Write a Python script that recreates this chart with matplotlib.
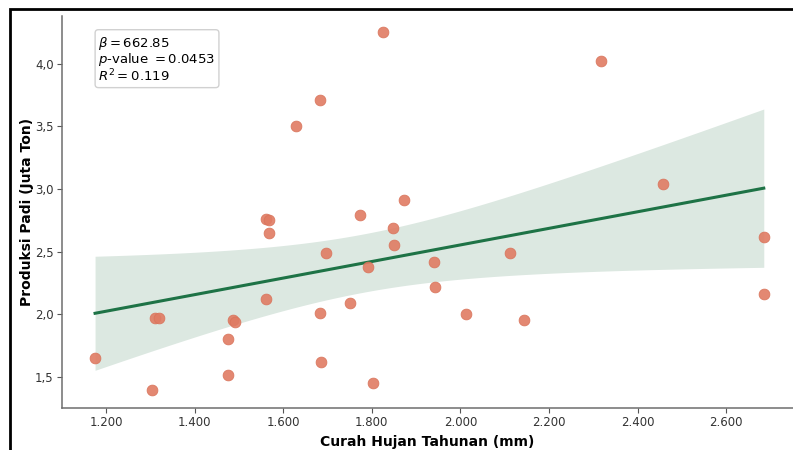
import numpy as np
import matplotlib
matplotlib.use("Agg")
import matplotlib.pyplot as plt
from matplotlib.patches import Rectangle
from matplotlib.ticker import FuncFormatter

# annual rainfall (mm) vs rice production (million ton)
curah_hujan = [1175, 1304, 1310, 1320, 1475, 1475, 1487, 1490, 1560, 1562,
               1568, 1568, 1629, 1683, 1683, 1685, 1697, 1750, 1773, 1791,
               1803, 1825, 1848, 1850, 1873, 1940, 1942, 2013, 2112, 2144,
               2317, 2457, 2685, 2685]
produksi = [1.65, 1.39, 1.97, 1.97, 1.80, 1.51, 1.95, 1.94, 2.12, 2.76,
            2.75, 2.65, 3.50, 3.71, 2.01, 1.62, 2.49, 2.09, 2.79, 2.38,
            1.45, 4.25, 2.69, 2.55, 2.91, 2.42, 2.22, 2.00, 2.49, 1.95,
            4.02, 3.04, 2.62, 2.16]

x_ticks = [1200, 1400, 1600, 1800, 2000, 2200, 2400, 2600]
y_ticks = [1.5, 2.0, 2.5, 3.0, 3.5, 4.0]
stats_text = "$\\beta = 662.85$\n$p$-value $= 0.0453$\n$R^2 = 0.119$"

x = np.array(curah_hujan, dtype=float)
y = np.array(produksi, dtype=float)

# ordinary least squares fit + 95% confidence band of the mean
slope, intercept = np.polyfit(x, y, 1)
xs = np.linspace(x.min(), x.max(), 100)
fit = intercept + slope * xs
n = len(x)
resid = y - (intercept + slope * x)
s = np.sqrt(np.sum(resid ** 2) / (n - 2))
sxx = np.sum((x - x.mean()) ** 2)
half = 2.04 * s * np.sqrt(1 / n + (xs - x.mean()) ** 2 / sxx)

fig = plt.figure(figsize=(7.93, 4.5), dpi=100)
ax = fig.add_axes([0.078, 0.093, 0.922, 0.871])

ax.fill_between(xs, fit - half, fit + half, color="#dce8e1", lw=0, zorder=1)
ax.plot(xs, fit, color="#1e7346", lw=2.2, zorder=3)
ax.scatter(x, y, s=60, color="#e07b63", alpha=0.9, edgecolor="#d9735a",
           lw=0.6, zorder=4)

ax.set_xlim(1100, 2751)
ax.set_ylim(1.249, 4.38)
ax.set_xticks(x_ticks)
ax.set_yticks(y_ticks)
ax.xaxis.set_major_formatter(FuncFormatter(lambda v, p: f"{v:,.0f}".replace(",", ".")))
ax.yaxis.set_major_formatter(FuncFormatter(lambda v, p: f"{v:.1f}".replace(".", ",")))
ax.tick_params(labelsize=8.5, colors="#333333", length=3.5, width=0.8, pad=2.5)
ax.tick_params(axis="both", color="#555555")

for side in ("top", "right"):
    ax.spines[side].set_visible(False)
for side in ("left", "bottom"):
    ax.spines[side].set_color("#6e6e6e")
    ax.spines[side].set_linewidth(1.1)

ax.set_xlabel("Curah Hujan Tahunan (mm)", fontsize=10, fontweight="bold", labelpad=4)
ax.set_ylabel("Produksi Padi (Juta Ton)", fontsize=10, fontweight="bold", labelpad=1)

ax.text(0.05, 0.952, stats_text, transform=ax.transAxes, fontsize=9.5,
        va="top", ha="left", linespacing=0.95,
        bbox=dict(boxstyle="round,pad=0.25", fc="white", ec="#cccccc", alpha=0.9))

# screenshot frame around the figure
fig.patches.append(Rectangle((0.0126, -0.2), 2, 1.18, transform=fig.transFigure,
                             fill=False, ec="black", lw=2, zorder=10))

fig.savefig("out.png", dpi=100)
